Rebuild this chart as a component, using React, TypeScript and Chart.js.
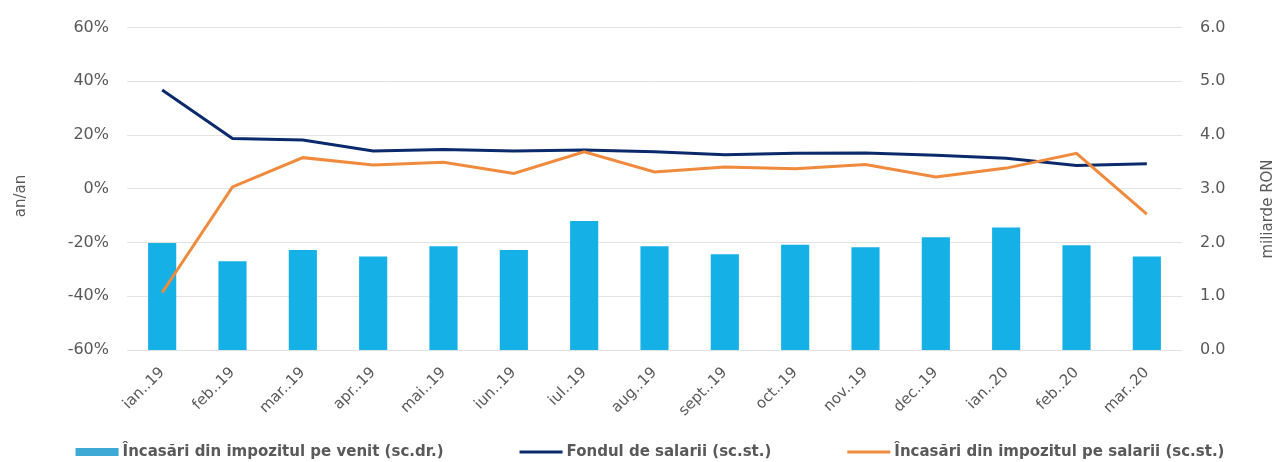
import React, { useEffect, useRef } from 'react';
import { Chart, registerables } from 'chart.js';

Chart.register(...registerables);

const categories = ['ian..19', 'feb..19', 'mar..19', 'apr..19', 'mai..19', 'iun..19', 'iul..19', 'aug..19', 'sept..19', 'oct..19', 'nov..19', 'dec..19', 'ian..20', 'feb..20', 'mar..20'];
const venitValues = [1.99, 1.65, 1.86, 1.74, 1.93, 1.86, 2.4, 1.93, 1.78, 1.96, 1.91, 2.1, 2.28, 1.95, 1.74];
const fondulValues = [36.8, 18.7, 18.2, 14.1, 14.6, 14.1, 14.4, 13.8, 12.7, 13.2, 13.3, 12.5, 11.4, 8.7, 9.3];
const salariiValues = [-38.6, 0.7, 11.6, 8.9, 9.9, 5.7, 13.8, 6.3, 8.1, 7.5, 9.0, 4.4, 7.7, 13.2, -9.4];

const leftTickLabels = ['-60%', '-40%', '-20%', '0%', '20%', '40%', '60%'];
const rightTickLabels = ['0.0', '1.0', '2.0', '3.0', '4.0', '5.0', '6.0'];
const leftAxisTitle = 'an/an';
const rightAxisTitle = 'miliarde RON';
const legendLabels = [
  'Încasări din impozitul pe venit (sc.dr.)',
  'Fondul de salarii (sc.st.)',
  'Încasări din impozitul pe salarii (sc.st.)',
];

const BAR_COLOR = '#14b0e6';
const NAVY = '#0b2a6c';
const ORANGE = '#f08a3c';
const TEXT = '#595959';
const FONT = '"DejaVu Sans", Verdana, sans-serif';

const overlayPlugin = {
  id: 'overlay',
  afterDraw(chart: any) {
    const ctx = chart.ctx as CanvasRenderingContext2D;
    ctx.save();
    ctx.fillStyle = TEXT;
    ctx.font = `15px ${FONT}`;
    ctx.textAlign = 'center';
    ctx.textBaseline = 'middle';
    ctx.save();
    ctx.translate(21, 196);
    ctx.rotate(-Math.PI / 2);
    ctx.fillText(leftAxisTitle, 0, 0);
    ctx.restore();
    ctx.save();
    ctx.translate(1268, 209);
    ctx.rotate(-Math.PI / 2);
    ctx.fillText(rightAxisTitle, 0, 0);
    ctx.restore();

    // legend
    ctx.font = `bold 15px ${FONT}`;
    ctx.textAlign = 'left';
    const swatch = 43;
    const gap = 4;
    const itemGap = 76;
    const widths = legendLabels.map((t) => ctx.measureText(t).width);
    const total = widths.reduce((a, w) => a + swatch + gap + w, 0) + itemGap * (legendLabels.length - 1);
    let x = 650 - total / 2;
    const y = 452;
    const kinds = ['bar', 'navy', 'orange'];
    legendLabels.forEach((label, i) => {
      const k = kinds[i];
      if (k === 'bar') {
        ctx.fillStyle = '#3fa9d6';
        ctx.fillRect(x, y - 4, swatch, 8);
      } else {
        ctx.strokeStyle = k === 'navy' ? NAVY : ORANGE;
        ctx.lineWidth = 3;
        ctx.beginPath();
        ctx.moveTo(x, y);
        ctx.lineTo(x + swatch, y);
        ctx.stroke();
      }
      ctx.fillStyle = TEXT;
      ctx.fillText(label, x + swatch + gap, y);
      x += swatch + gap + widths[i] + itemGap;
    });
    ctx.restore();
  },
};

export default function App() {
  const canvasRef = useRef<HTMLCanvasElement | null>(null);

  useEffect(() => {
    document.body.style.margin = '0';
    const canvas = canvasRef.current;
    if (!canvas) return;
    const tickFont = { family: FONT, size: 16 };
    const xFont = { family: FONT, size: 15 };
    const chart = new Chart(canvas, {
      type: 'bar',
      data: {
        labels: categories,
        datasets: [
          {
            type: 'line',
            label: legendLabels[2],
            data: salariiValues,
            yAxisID: 'y',
            borderColor: ORANGE,
            backgroundColor: ORANGE,
            borderWidth: 3,
            pointRadius: 0,
            tension: 0,
            order: 0,
          },
          {
            type: 'line',
            label: legendLabels[1],
            data: fondulValues,
            yAxisID: 'y',
            borderColor: NAVY,
            backgroundColor: NAVY,
            borderWidth: 3,
            pointRadius: 0,
            tension: 0,
            order: 1,
          },
          {
            type: 'bar',
            label: legendLabels[0],
            data: venitValues,
            yAxisID: 'y1',
            backgroundColor: BAR_COLOR,
            barPercentage: 0.4,
            categoryPercentage: 1,
            order: 2,
          },
        ],
      },
      options: {
        responsive: false,
        animation: false,
        devicePixelRatio: 1,
        layout: { padding: { left: 20, right: 0, top: 26, bottom: 0 } },
        plugins: {
          legend: { display: false },
          tooltip: { enabled: false },
        },
        scales: {
          x: {
            offset: true,
            grid: { display: false },
            border: { display: false },
            ticks: {
              font: xFont,
              color: TEXT,
              maxRotation: 45,
              minRotation: 45,
              autoSkip: false,
              padding: 6,
            },
            afterFit: (s: any) => {
              s.height = 112;
            },
          },
          y: {
            position: 'left',
            min: -60,
            max: 60,
            grid: { color: '#e3e3e3', lineWidth: 1, drawTicks: false },
            border: { display: false },
            ticks: {
              stepSize: 20,
              font: tickFont,
              color: TEXT,
              padding: 18,
              callback: (_v: any, i: number) => leftTickLabels[i],
            },
            afterFit: (s: any) => {
              s.width = 107;
            },
          },
          y1: {
            position: 'right',
            min: 0,
            max: 6,
            grid: { display: false, drawTicks: false },
            border: { display: false },
            ticks: {
              stepSize: 1,
              font: tickFont,
              color: TEXT,
              padding: 18,
              callback: (_v: any, i: number) => rightTickLabels[i],
            },
            afterFit: (s: any) => {
              s.width = 98;
            },
          },
        },
      },
      plugins: [overlayPlugin],
    });
    return () => chart.destroy();
  }, []);

  return (
    <div style={{ position: 'fixed', left: 0, top: 0, width: 1280, height: 462, overflow: 'hidden', background: '#fff' }}>
      <canvas ref={canvasRef} width={1280} height={462} style={{ display: 'block' }} />
    </div>
  );
}
